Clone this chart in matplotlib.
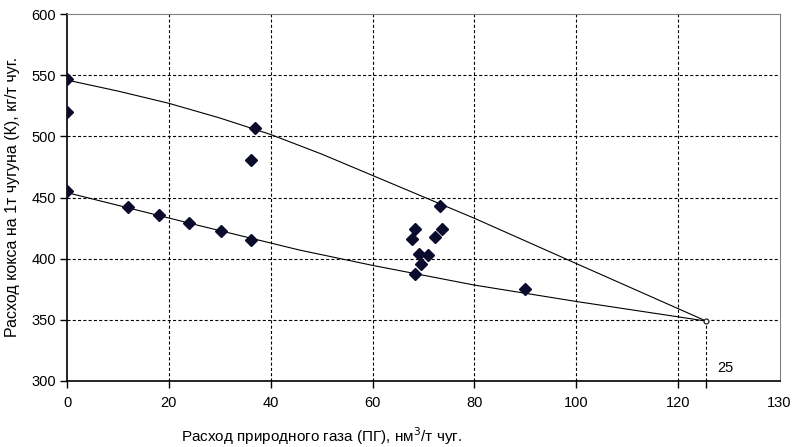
import numpy as np
import matplotlib
matplotlib.use('Agg')
import matplotlib.pyplot as plt

plt.rcParams['font.family'] = ['Liberation Sans', 'DejaVu Sans']
plt.rcParams['font.size'] = 10
plt.rcParams['lines.scale_dashes'] = False

# measured points
gas = [0, 0, 0, 12, 18, 24, 30.2, 36.2, 36.2, 37,
       67.8, 68.4, 68.4, 69.1, 69.5, 70.9, 72.2, 73.3, 73.6, 90]
coke = [546.5, 520, 455, 442, 435.5, 429, 422.5, 415.2, 480.5, 506.5,
        416.3, 424.4, 387.2, 403.8, 395.6, 403, 417.6, 443, 424.4, 375.2]

# upper and lower boundary lines
upper_x = [0, 10, 20, 30, 40, 50, 60, 80, 100, 125.5]
upper_y = [546, 537, 527, 515, 501.5, 485.5, 468, 433, 396, 349]
lower_x = [0, 13, 26, 45.7, 60, 80, 100, 125.5]
lower_y = [454, 440.5, 427, 407, 394.5, 378.4, 365, 349]

end_x, end_y = 125.5, 349

x_ticks = [0, 20, 40, 60, 80, 100, 120]
y_ticks = [300, 350, 400, 450, 500, 550, 600]

fig = plt.figure(figsize=(7.94, 4.47), dpi=100)
ax = fig.add_axes([67/794, 1 - 381/447, (780 - 67)/794, (381 - 14)/447])
ax.set_xlim(0, 140)
ax.set_ylim(300, 600)

dash = (0, (2.2, 1.6))
for v in x_ticks[1:]:
    ax.axvline(v, color='black', lw=0.8, ls=dash, zorder=1)
for h in y_ticks[1:-1]:
    ax.axhline(h, color='black', lw=0.8, ls=dash, zorder=1)
ax.plot([end_x, end_x], [300, end_y], color='black', lw=0.8, ls=dash, zorder=1)

ax.plot(upper_x, upper_y, color='black', lw=0.8, zorder=2)
ax.plot(lower_x, lower_y, color='black', lw=0.8, zorder=2)
ax.plot(gas, coke, ls='none', marker='D', ms=5.8, color='#0b0b2e', zorder=3)
ax.plot([end_x], [end_y], marker='o', ms=3.5, mfc='white', mec='#222222',
        mew=0.9, zorder=4)

ax.set_xticks(x_ticks + [end_x])
ax.set_xticklabels([str(t) for t in x_ticks] + [''])
ax.set_yticks(y_ticks)
ax.tick_params(direction='out', length=5, width=1, pad=6, labelsize=10.5)
ax.tick_params(axis='y', pad=3)
ax.text(139.8, 287.5, '130', ha='center', va='top', fontsize=10.5)
ax.text(127.6, 305, '25', ha='left', va='bottom', fontsize=10.5)

for s in ['top', 'right']:
    ax.spines[s].set_color('#808080')
for s in ['left', 'bottom']:
    ax.spines[s].set_color('black')
    ax.spines[s].set_linewidth(1.2)

fig.text(322/794, 1 - 436/447, 'Расход природного газа (ПГ), нм$^3$/т чуг.',
         ha='center', va='center', fontsize=11)
fig.text(13/794, 1 - 197/447, 'Расход кокса на 1т чугуна (К), кг/т чуг.',
         ha='center', va='center', rotation=90, fontsize=11.5)

fig.savefig('out.png', dpi=100)
